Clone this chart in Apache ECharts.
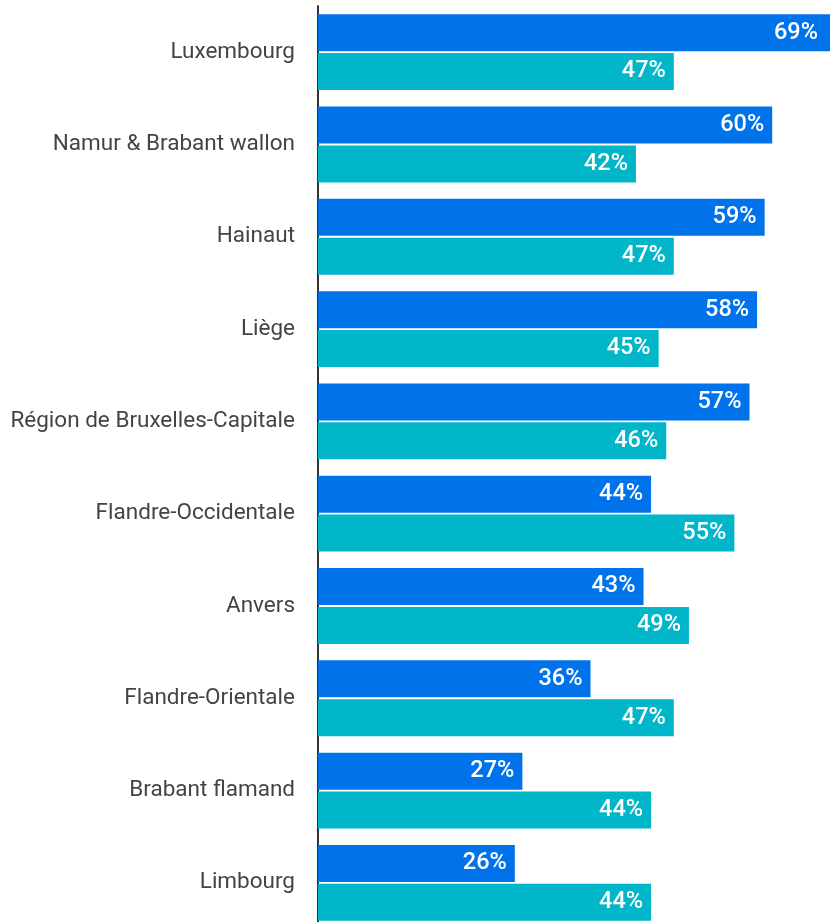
<!DOCTYPE html>
<html><head><meta charset="utf-8">
<script src="https://cdn.jsdelivr.net/npm/echarts@6/dist/echarts.min.js"></script>
<style>html,body{margin:0;padding:0;background:#fff;overflow:hidden}#c{width:1100px;height:940px}</style>
</head><body><div id="c"></div>
<script>
const categories = ["Luxembourg","Namur & Brabant wallon","Hainaut","Liège","Région de Bruxelles-Capitale","Flandre-Occidentale","Anvers","Flandre-Orientale","Brabant flamand","Limbourg"];
const seriesA = [69,60,59,58,57,44,43,36,27,26];
const seriesB = [47,42,47,45,46,55,49,47,44,44];

const chart = echarts.init(document.getElementById('c'), null, {renderer:'canvas'});
const lbl = {show:true, position:'insideRight', distance:8, formatter:'{c}%', color:'#fff', fontFamily:'Roboto', fontSize:23.5, fontWeight:500, textBorderWidth:0};
// visible page is 830px wide: keep the label of a bar running past the edge inside the view
const dataA = seriesA.map(v => (318 + v * 7.57 > 830) ? {value:v, label:{distance:8 + (318 + v * 7.57 - 830) + 4}} : v);
chart.setOption({
  animation:false,
  grid:{left:318, top:6, width:757, height:923, containLabel:false},
  xAxis:{type:'value', min:0, max:100, show:false},
  yAxis:{type:'category', data:categories, inverse:true,
    axisLine:{show:true, lineStyle:{color:'#333', width:2}},
    axisTick:{show:false},
    axisLabel:{margin:23, color:'#444', fontFamily:'Roboto', fontSize:22.5}},
  series:[
    {type:'bar', data:dataA, barWidth:37, barGap:'5%', itemStyle:{color:'#0073EA'}, label:lbl},
    {type:'bar', data:seriesB, barWidth:37, itemStyle:{color:'#00B6C8'}, label:lbl}
  ]
});
</script></body></html>
